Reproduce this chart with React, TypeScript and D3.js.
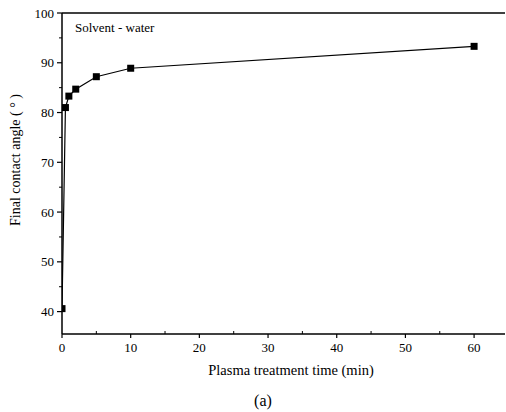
import React from "react";
import * as d3 from "d3";

const times = [0, 0.5, 1, 2, 5, 10, 60];
const angles = [40.6, 81.0, 83.3, 84.7, 87.2, 88.9, 93.3];
const xTicks = [0, 10, 20, 30, 40, 50, 60];
const xMinor = [5, 15, 25, 35, 45, 55];
const yTicks = [40, 50, 60, 70, 80, 90, 100];
const yMinor = [45, 55, 65, 75, 85, 95];

const W = 506, H = 412;
const L = 62, R = 505, T = 13, B = 334;
const font = "'Liberation Serif', 'Times New Roman', serif";

export default function App() {
  const x = d3.scaleLinear().domain([0, 64.5]).range([L, R]);
  const y = d3.scaleLinear().domain([35.5, 100]).range([B, T]);
  const pts = times.map((t, i) => [t, angles[i]] as [number, number]);
  const line = d3.line<[number, number]>().x(d => x(d[0])).y(d => y(d[1]));
  const ms = 7;
  return (
    <svg width={W} height={H} style={{ position: "absolute", left: 0, top: 0, background: "#fff" }}>
      <defs>
        <clipPath id="pc"><rect x={L} y={T - 10} width={R - L + 10} height={B - T + 10} /></clipPath>
      </defs>
      <rect x={0} y={0} width={W} height={H} fill="#fff" />
      {/* frame */}
      <line x1={L} x2={R} y1={T} y2={T} stroke="#000" strokeWidth={1.5} />
      <line x1={L} x2={L} y1={T} y2={B} stroke="#000" strokeWidth={1.5} />
      <line x1={L} x2={R} y1={B} y2={B} stroke="#000" strokeWidth={1.5} />
      {/* y ticks */}
      {yTicks.map(v => (
        <g key={"y" + v}>
          <line x1={L - 5} x2={L} y1={y(v)} y2={y(v)} stroke="#000" strokeWidth={1.2} />
          <text x={L - 8} y={y(v) + 4.5} textAnchor="end" fontFamily={font} fontSize={13}>{v}</text>
        </g>
      ))}
      {yMinor.map(v => (
        <line key={"ym" + v} x1={L - 3} x2={L} y1={y(v)} y2={y(v)} stroke="#000" strokeWidth={1} />
      ))}
      {/* x ticks */}
      {xTicks.map(v => (
        <g key={"x" + v}>
          <line x1={x(v)} x2={x(v)} y1={B} y2={B + 4} stroke="#000" strokeWidth={1.2} />
          <text x={x(v)} y={B + 18} textAnchor="middle" fontFamily={font} fontSize={13}>{v}</text>
        </g>
      ))}
      {xMinor.map(v => (
        <line key={"xm" + v} x1={x(v)} x2={x(v)} y1={B - 3} y2={B} stroke="#000" strokeWidth={1} />
      ))}
      {/* data */}
      <g clipPath="url(#pc)">
        <path d={line(pts) || ""} fill="none" stroke="#000" strokeWidth={1.2} />
        {pts.map((p, i) => (
          <rect key={i} x={x(p[0]) - ms / 2} y={y(p[1]) - ms / 2} width={ms} height={ms} fill="#000" />
        ))}
      </g>
      <text x={75} y={32} fontFamily={font} fontSize={13}>Solvent - water</text>
      <text transform={`translate(20,${160}) rotate(-90)`} textAnchor="middle" fontFamily={font} fontSize={14}>
        Final contact angle ( ° )
      </text>
      <text x={291} y={375} textAnchor="middle" fontFamily={font} fontSize={14.5}>Plasma treatment time (min)</text>
      <text x={263} y={406} textAnchor="middle" fontFamily={font} fontSize={16}>(a)</text>
    </svg>
  );
}
